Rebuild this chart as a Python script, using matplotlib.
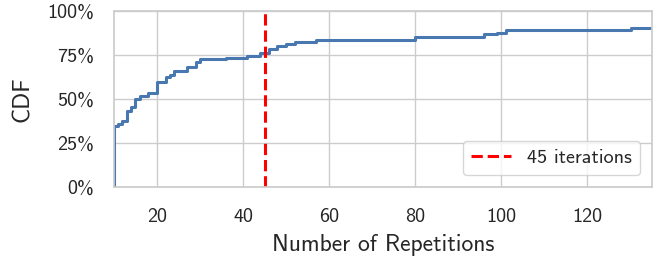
import matplotlib
matplotlib.use('Agg')
import matplotlib.pyplot as plt
import seaborn as sns
from matplotlib.ticker import PercentFormatter

# step points of the CDF (repetitions, cumulative fraction)
reps = [10, 10, 11, 12, 13, 14, 15, 16, 18, 20, 22, 23, 24, 27, 29, 30, 36, 41,
        44, 46, 48, 50, 52, 57, 80, 96, 99, 101, 130, 140]
cdf = [0.0, 0.345, 0.358, 0.378, 0.433, 0.458, 0.50, 0.52, 0.534, 0.60, 0.623,
       0.638, 0.662, 0.68, 0.71, 0.727, 0.736, 0.745, 0.761, 0.784, 0.80, 0.816,
       0.827, 0.838, 0.854, 0.869, 0.878, 0.89, 0.903, 1.0]
threshold = 45

sns.set_theme(style='whitegrid')
plt.rcParams['font.family'] = ['cmss10', 'DejaVu Sans']
plt.rcParams['axes.unicode_minus'] = False

fig, ax = plt.subplots(figsize=(6.62, 2.65), dpi=100)
fig.subplots_adjust(left=0.172, right=0.985, top=0.958, bottom=0.294)

ax.step(reps, cdf, where='post', color='#4878AF', linewidth=2.2)
ax.axvline(threshold, color='red', linestyle='--', linewidth=2.2, label='45 iterations')

ax.set_xlim(10, 135)
ax.set_ylim(0, 1)
ax.set_yticks([0, 0.25, 0.5, 0.75, 1.0])
ax.yaxis.set_major_formatter(PercentFormatter(1.0, decimals=0))
ax.set_xticks([20, 40, 60, 80, 100, 120])
ax.tick_params(axis='x', labelsize=14.5, pad=9)
ax.tick_params(axis='y', labelsize=14.5, pad=8)
ax.set_xlabel('Number of Repetitions', fontsize=17, labelpad=6)
ax.set_ylabel('CDF', fontsize=17, labelpad=10)
ax.legend(loc='lower right', fontsize=14.5, borderaxespad=0.6)

plt.savefig('out.png')
